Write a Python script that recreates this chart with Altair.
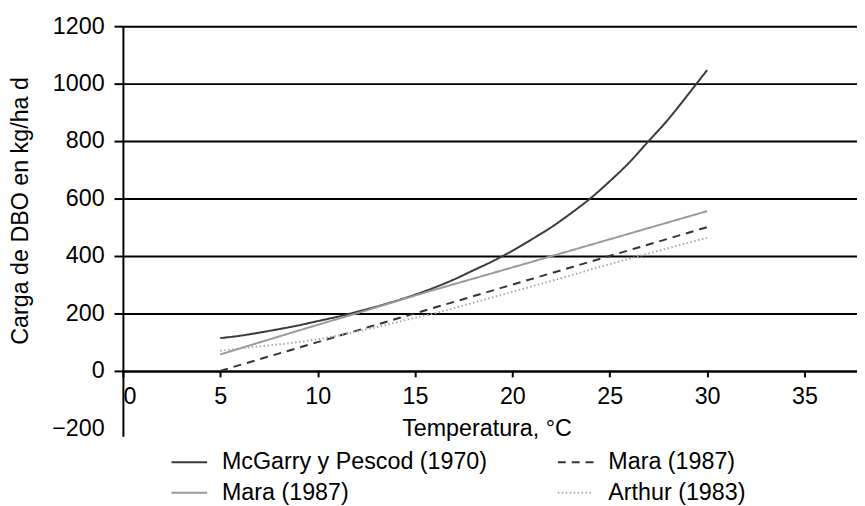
import altair as alt
import pandas as pd

# ---- data ----
mcg_T = [5, 6, 7, 8, 9, 10, 11, 12, 13, 14, 15, 16, 17, 18, 19, 20, 21, 22, 23, 24, 25, 26, 27, 28, 29, 30]
mcg_v = [114, 122, 133, 145, 158, 173, 188, 205, 223, 243, 265, 290, 318, 350, 382, 418, 458, 500, 548, 600, 660, 725, 800, 875, 960, 1047]

mara_gray_T = [5, 10, 12, 15, 20, 25, 30]
mara_gray_v = [57, 160, 200, 262, 360, 458, 556]

mara_dash_T = [5, 10, 15, 20, 25, 30]
mara_dash_v = [0, 100, 200, 300, 400, 500]

arthur_T = [5, 7, 9, 10, 11, 12, 13, 14, 15, 16, 18, 20, 22, 24, 26, 28, 30]
arthur_v = [70, 85, 100, 110, 122, 137, 152, 168, 185, 200, 237, 275, 313, 352, 390, 427, 463]

name_mcg = "McGarry y Pescod (1970)"
name_mara_gray = "Mara (1987)"
name_mara_dash = "Mara (1987) "
name_arthur = "Arthur (1983)"

x_ticks = [0, 5, 10, 15, 20, 25, 30, 35]
y_ticks = [-200, 0, 200, 400, 600, 800, 1000, 1200]

# legend fills column by column: col 1 = McGarry, Mara(gray); col 2 = Mara(dashed), Arthur
legend_order = [name_mcg, name_mara_gray, name_mara_dash, name_arthur]
line_colors = ["#3a3a3a", "#9a9a9a", "#333333", "#a8a8a8"]
line_dashes = [[1, 0], [1, 0], [8, 6], [1.5, 2.5]]

rows = []
for nm, ts, vs in [
    (name_mcg, mcg_T, mcg_v),
    (name_mara_gray, mara_gray_T, mara_gray_v),
    (name_mara_dash, mara_dash_T, mara_dash_v),
    (name_arthur, arthur_T, arthur_v),
]:
    rows += [{"serie": nm, "T": t, "v": v} for t, v in zip(ts, vs)]
df = pd.DataFrame(rows)

FONT = "Liberation Sans"
FS = 23.5

chart = (
    alt.Chart(df)
    .mark_line(strokeWidth=2, interpolate="monotone")
    .encode(
        x=alt.X(
            "T:Q",
            scale=alt.Scale(domain=[0, 37.7], nice=False, zero=False),
            axis=alt.Axis(
                values=x_ticks,
                format="d",
                title="Temperatura, °C",
                offset=-66,
                grid=False,
                domainColor="black",
                domainWidth=2,
                tickColor="black",
                tickWidth=2,
                tickSize=6,
                labelFontSize=FS,
                labelFont=FONT,
                labelColor="black",
                labelPadding=8,
                titleFontSize=FS,
                titleFont=FONT,
                titleFontWeight="normal",
                titleColor="black",
                titlePadding=9,
                titleX=367,
            ),
        ),
        y=alt.Y(
            "v:Q",
            scale=alt.Scale(domain=[-228, 1200], nice=False, zero=False),
            axis=alt.Axis(
                values=y_ticks,
                format="d",
                title="Carga de DBO en kg/ha d",
                grid=True,
                gridColor={"condition": {"test": "datum.value < 0", "value": "transparent"}, "value": "black"},
                gridWidth=2,
                domainColor="black",
                domainWidth=2,
                tickColor={"condition": {"test": "datum.value < 0", "value": "transparent"}, "value": "black"},
                tickWidth=2,
                tickSize=9,
                labelFontSize=FS,
                labelFont=FONT,
                labelColor="black",
                labelPadding=10,
                titleFontSize=FS,
                titleFont=FONT,
                titleFontWeight="normal",
                titleColor="black",
                titlePadding=19,
                titleY=186,
            ),
        ),
        color=alt.Color(
            "serie:N",
            scale=alt.Scale(domain=legend_order, range=line_colors),
            sort=legend_order,
            title=None,
        ),
        strokeDash=alt.StrokeDash(
            "serie:N",
            scale=alt.Scale(domain=legend_order, range=line_dashes),
            sort=legend_order,
            title=None,
        ),
    )
    .properties(
        width=741,
        height=414,
        autosize="none",
        padding={"left": 116, "top": 16, "right": 0, "bottom": 68},
    )
    .configure_view(stroke=None)
    .configure_legend(
        orient="none",
        legendX=48,
        legendY=421,
        columns=2,
        symbolType="stroke",
        symbolSize=1296,
        symbolStrokeWidth=2,
        labelFontSize=FS,
        labelFont=FONT,
        labelColor="black",
        labelOffset=14,
        labelLimit=0,
        columnPadding=67,
        rowPadding=-3,
        padding=0,
    )
)

chart.save("out.html", embed_options={"renderer": "svg", "actions": False})
